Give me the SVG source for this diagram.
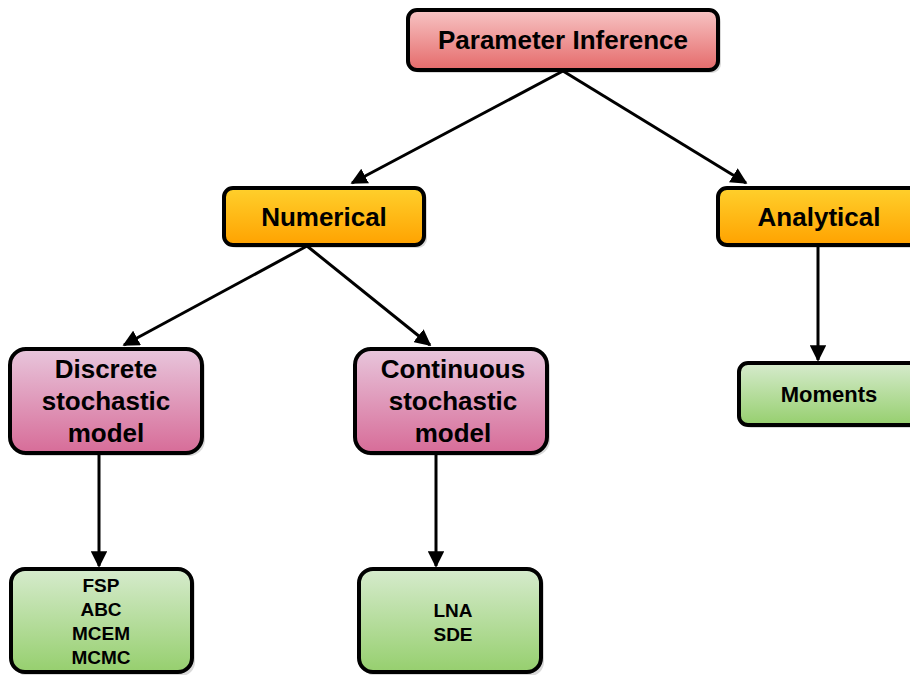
<svg xmlns="http://www.w3.org/2000/svg" width="910" height="675" viewBox="0 0 910 675">
<defs>
<linearGradient id="gRed" x1="0" y1="0" x2="0" y2="1"><stop offset="0" stop-color="#f7c4c4"/><stop offset="1" stop-color="#e56a6a"/></linearGradient>
<linearGradient id="gOrange" x1="0" y1="0" x2="0" y2="1"><stop offset="0" stop-color="#ffd02c"/><stop offset="1" stop-color="#ffa200"/></linearGradient>
<linearGradient id="gPink" x1="0" y1="0" x2="0" y2="1"><stop offset="0" stop-color="#e8c6dc"/><stop offset="1" stop-color="#d76c98"/></linearGradient>
<linearGradient id="gGreen" x1="0" y1="0" x2="0" y2="1"><stop offset="0" stop-color="#d6ebcd"/><stop offset="1" stop-color="#96cf6e"/></linearGradient>
<marker id="arr" viewBox="0 0 10 10" refX="9" refY="5" markerWidth="5.5" markerHeight="5.5" orient="auto" markerUnits="strokeWidth"><path d="M0,0 L10,5 L0,10 z" fill="#000"/></marker>
</defs>
<style>
.box{stroke:#000;stroke-width:4}
.sh{fill:#000;opacity:0.15}
text{font-family:"Liberation Sans",Arial,sans-serif;font-weight:bold;fill:#000;text-anchor:middle}
.t26{font-size:26px}
.t22{font-size:22px}
.t19{font-size:19px}
.edge{stroke:#000;stroke-width:3;fill:none;marker-end:url(#arr)}
</style>
<rect width="910" height="675" fill="#fff"/>
<g id="edges">
<line class="edge" x1="563" y1="71" x2="352" y2="183"/>
<line class="edge" x1="563" y1="71" x2="746" y2="183"/>
<line class="edge" x1="307" y1="246" x2="124" y2="345"/>
<line class="edge" x1="307" y1="246" x2="430" y2="345"/>
<line class="edge" x1="818" y1="246" x2="818" y2="360"/>
<line class="edge" x1="99" y1="454" x2="99" y2="566"/>
<line class="edge" x1="436" y1="454" x2="436" y2="566"/>
</g>
<g id="n_param">
<rect class="sh" x="411" y="13" width="310" height="60" rx="9"/>
<rect class="box" x="408" y="10" width="310" height="60" rx="9" fill="url(#gRed)"/>
<text class="t26" x="563" y="49">Parameter Inference</text>
</g>
<g id="n_numerical">
<rect class="sh" x="227" y="191" width="200" height="57" rx="9"/>
<rect class="box" x="224" y="188" width="200" height="57" rx="9" fill="url(#gOrange)"/>
<text class="t26" x="324" y="226">Numerical</text>
</g>
<g id="n_analytical">
<rect class="sh" x="721" y="191" width="202" height="57" rx="9"/>
<rect class="box" x="718" y="188" width="202" height="57" rx="9" fill="url(#gOrange)"/>
<text class="t26" x="819" y="226">Analytical</text>
</g>
<g id="n_discrete">
<rect class="sh" x="13" y="352" width="192" height="104" rx="16"/>
<rect class="box" x="10" y="349" width="192" height="104" rx="16" fill="url(#gPink)"/>
<text class="t26" x="106" y="378">Discrete</text>
<text class="t26" x="106" y="410">stochastic</text>
<text class="t26" x="106" y="442">model</text>
</g>
<g id="n_continuous">
<rect class="sh" x="358" y="352" width="192" height="104" rx="16"/>
<rect class="box" x="355" y="349" width="192" height="104" rx="16" fill="url(#gPink)"/>
<text class="t26" x="453" y="378">Continuous</text>
<text class="t26" x="453" y="410">stochastic</text>
<text class="t26" x="453" y="442">model</text>
</g>
<g id="n_moments">
<rect class="sh" x="742" y="366" width="182" height="62" rx="9"/>
<rect class="box" x="739" y="363" width="182" height="62" rx="9" fill="url(#gGreen)"/>
<text class="t22" x="829" y="402">Moments</text>
</g>
<g id="n_fsp">
<rect class="sh" x="14" y="572" width="181" height="104" rx="14"/>
<rect class="box" x="11" y="569" width="181" height="103" rx="14" fill="url(#gGreen)"/>
<text class="t19" x="101" y="592">FSP</text>
<text class="t19" x="101" y="616">ABC</text>
<text class="t19" x="101" y="640">MCEM</text>
<text class="t19" x="101" y="664">MCMC</text>
</g>
<g id="n_lna">
<rect class="sh" x="362" y="572" width="182" height="104" rx="14"/>
<rect class="box" x="359" y="569" width="182" height="103" rx="14" fill="url(#gGreen)"/>
<text class="t19" x="453" y="617">LNA</text>
<text class="t19" x="453" y="641">SDE</text>
</g>
</svg>
